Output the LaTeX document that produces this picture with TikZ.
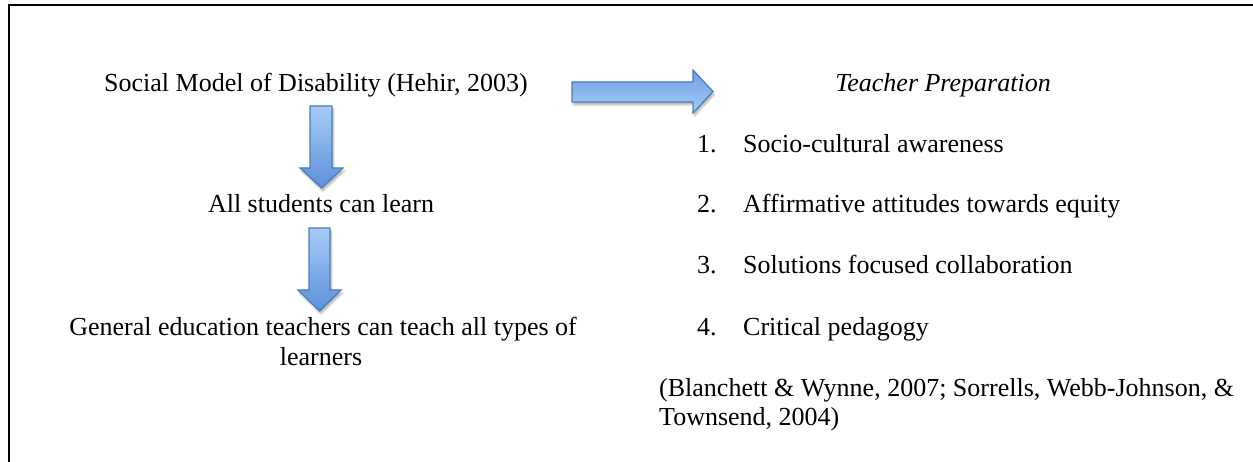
\documentclass[tikz,border=0pt]{standalone}
\usepackage{fontspec}
\setmainfont{Liberation Serif}
\usetikzlibrary{shadows.blur}
\definecolor{arrowedge}{HTML}{4A7EBB}
\definecolor{arrowlight}{HTML}{A7CBF7}
\definecolor{arrowdark}{HTML}{5C90D9}
\tikzset{
  txt/.style={inner sep=0pt, font=\fontsize{26}{30}\selectfont},
  blockarrow/.style={draw=arrowedge, line width=1.2pt, line join=miter,
    blur shadow={shadow xshift=1.5pt, shadow yshift=-3pt, shadow opacity=30, shadow blur steps=5}},
  downfill/.style={top color=arrowlight, bottom color=arrowdark},
  rightfill/.style={top color=arrowdark!75!arrowlight, bottom color=arrowlight},
}
\begin{document}
\begin{tikzpicture}[x=1pt,y=-1pt]
\useasboundingbox (0,0) rectangle (1253,462);
\clip (0,0) rectangle (1253,462);

% frame (only top and left edges fall inside the page)
\draw[line width=2.4pt] (8.7,470) -- (8.7,5) -- (1260,5);

% left column
\node[txt, anchor=base west] (social) at (104,92) {Social Model of Disability (Hehir, 2003)};
\node[txt, anchor=base] (all) at (321,213) {All students can learn};
\node[txt, anchor=base] (gen1) at (323,336) {General education teachers can teach all types of};
\node[txt, anchor=base] (gen2) at (321,365) {learners};

% block arrows
\path[blockarrow, rightfill] (572,82) -- (693,82) -- (693,70) -- (713,91.5) -- (693,113) -- (693,102) -- (572,102) -- cycle;
\path[blockarrow, downfill] (310,106) -- (332,106) -- (332,168) -- (343,168) -- (321.5,188) -- (300,168) -- (310,168) -- cycle;
\path[blockarrow, downfill] (309,228) -- (330,228) -- (330,290) -- (341,290) -- (319.5,311) -- (298,290) -- (309,290) -- cycle;

% right column
\node[txt, anchor=base, font=\fontsize{26}{30}\selectfont\itshape] (prep) at (943,92) {Teacher Preparation};
\node[txt, anchor=base west] (n1) at (697,153) {1.};
\node[txt, anchor=base west] (i1) at (743,153) {Socio-cultural awareness};
\node[txt, anchor=base west] (n2) at (697,213) {2.};
\node[txt, anchor=base west] (i2) at (743,213) {Affirmative attitudes towards equity};
\node[txt, anchor=base west] (n3) at (697,274) {3.};
\node[txt, anchor=base west] (i3) at (743,274) {Solutions focused collaboration};
\node[txt, anchor=base west] (n4) at (697,335) {4.};
\node[txt, anchor=base west] (i4) at (743,335) {Critical pedagogy};
\node[txt, anchor=base west] (cite1) at (659,396) {(Blanchett \& Wynne, 2007; Sorrells, Webb-Johnson, \&};
\node[txt, anchor=base west] (cite2) at (659,425) {Townsend, 2004)};
\end{tikzpicture}
\end{document}
